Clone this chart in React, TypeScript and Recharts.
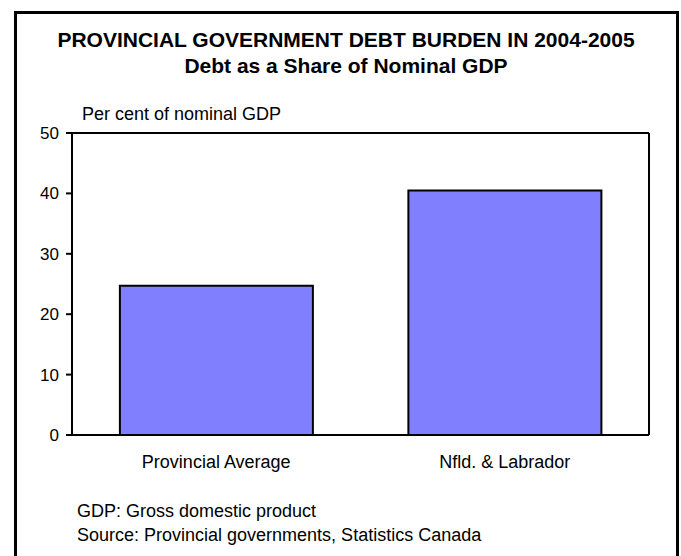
import React from "react";
import { BarChart, Bar, XAxis, YAxis, ReferenceLine } from "recharts";

const categories = ["Provincial Average", "Nfld. & Labrador"];
const debtShare = [24.7, 40.5];
const yTicks = [0, 10, 20, 30, 40, 50];

const data = categories.map((name, i) => ({ name, debt: debtShare[i] }));

const FONT = '"Liberation Sans", Arial, Helvetica, sans-serif';

export default function App() {
  return (
    <div
      style={{
        position: "absolute",
        left: 0,
        top: 0,
        width: 681,
        height: 556,
        overflow: "hidden",
        background: "#fff",
        fontFamily: FONT,
      }}
    >
      <div
        style={{
          position: "absolute",
          left: 13.5,
          top: 10.5,
          width: 665,
          height: 600,
          border: "3px solid #000",
          boxSizing: "border-box",
        }}
      />
      <BarChart
        width={681}
        height={556}
        data={data}
        margin={{ top: 133, right: 31, left: 0, bottom: 81 }}
        barCategoryGap="16.6%"
        style={{ position: "absolute", left: 0, top: 0 }}
      >
        <XAxis
          dataKey="name"
          height={40}
          tickLine={false}
          axisLine={{ stroke: "#000", strokeWidth: 2 }}
          tick={{ fill: "#000", fontSize: 18, fontFamily: FONT }}
          tickMargin={14}
          interval={0}
        />
        <YAxis
          domain={[0, 50]}
          ticks={yTicks}
          width={72}
          tickSize={6}
          tickMargin={7}
          axisLine={{ stroke: "#000", strokeWidth: 2 }}
          tickLine={{ stroke: "#000", strokeWidth: 2 }}
          tick={{ fill: "#000", fontSize: 17, fontFamily: FONT }}
          interval={0}
        />
        <YAxis
          yAxisId="right"
          orientation="right"
          domain={[0, 50]}
          width={1}
          tick={false}
          tickLine={false}
          axisLine={{ stroke: "#000", strokeWidth: 2 }}
        />
        <ReferenceLine y={50} stroke="#000" strokeWidth={2} />
        <Bar
          dataKey="debt"
          fill="#8080FF"
          stroke="#000"
          strokeWidth={2}
          isAnimationActive={false}
        />
      </BarChart>
      <svg
        width={681}
        height={556}
        style={{ position: "absolute", left: 0, top: 0, pointerEvents: "none" }}
        fontFamily={FONT}
      >
        <text x={346} y={47} textAnchor="middle" fontSize={21} fontWeight="bold">
          PROVINCIAL GOVERNMENT DEBT BURDEN IN 2004-2005
        </text>
        <text x={346} y={73} textAnchor="middle" fontSize={21} fontWeight="bold">
          Debt as a Share of Nominal GDP
        </text>
        <text x={82} y={120} fontSize={18}>
          Per cent of nominal GDP
        </text>
        <text x={77} y={517} fontSize={18}>
          GDP: Gross domestic product
        </text>
        <text x={77} y={541} fontSize={18}>
          Source: Provincial governments, Statistics Canada
        </text>
      </svg>
    </div>
  );
}
